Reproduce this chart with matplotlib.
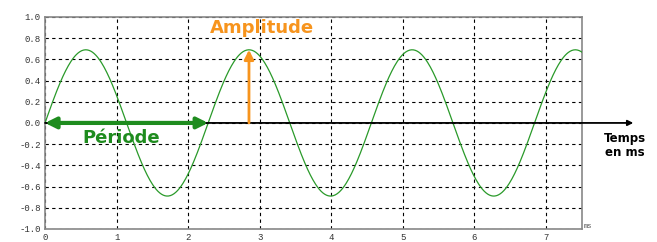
import numpy as np
import matplotlib.pyplot as plt

# values
amplitude = 0.69          # peak value
period = 2.28             # ms
t_max = 7.5               # ms, end of the x axis
x_ticks = [0, 1, 2, 3, 4, 5, 6, 7]
y_ticks = [-1.0, -0.8, -0.6, -0.4, -0.2, 0.0, 0.2, 0.4, 0.6, 0.8, 1.0]

green = '#1e8c1e'
orange = '#f7941d'

t = np.linspace(0, t_max, 600)
signal = amplitude * np.sin(2 * np.pi * t / period)

fig = plt.figure(figsize=(6.57, 2.42), dpi=100)
ax = fig.add_axes([0.0685, 0.054, 0.817, 0.876])

ax.plot(t, signal, color='#2a9a2a', lw=0.9, zorder=3)

ax.set_xlim(0, t_max)
ax.set_ylim(-1.0, 1.0)
ax.set_xticks(x_ticks)
ax.set_yticks(y_ticks)
ax.set_xticklabels([str(v) for v in x_ticks])
ax.set_yticklabels([f'{v:.1f}' for v in y_ticks])
ax.tick_params(length=0, labelsize=6.5, pad=3, colors='#333333')
for lab in ax.get_xticklabels() + ax.get_yticklabels():
    lab.set_family('Liberation Mono')
ax.grid(True, color='black', linestyle=(0, (3, 3)), lw=0.8)
for s in ax.spines.values():
    s.set_color('#888888')
    s.set_linewidth(1.2)

# unit at the bottom right corner
ax.text(1.003, -0.005, 'ms', transform=ax.transAxes, fontsize=5,
        family='Liberation Mono', color='#555555', va='bottom', ha='left')

# time axis arrow
ax.annotate('', xy=(8.22, 0), xytext=(0, 0), annotation_clip=False,
            arrowprops=dict(arrowstyle='-|>', color='black', lw=1.3,
                            mutation_scale=8, shrinkA=0, shrinkB=0), zorder=4)
ax.text(8.1, -0.21, 'Temps\nen ms', fontsize=8.5, fontweight='bold',
        ha='center', va='center', linespacing=1.1, clip_on=False)

# period double arrow
ax.annotate('', xy=(period, 0), xytext=(0, 0),
            arrowprops=dict(arrowstyle='<|-|>', color=green, lw=3,
                            mutation_scale=16, shrinkA=0, shrinkB=0), zorder=5)
ax.text(1.07, -0.14, 'Période', color=green, fontsize=13, fontweight='bold',
        ha='center', va='center', zorder=6)

# amplitude arrow
ax.annotate('', xy=(period * 1.25, amplitude), xytext=(period * 1.25, 0),
            arrowprops=dict(arrowstyle='-|>', color=orange, lw=2,
                            mutation_scale=14, shrinkA=0, shrinkB=0), zorder=5)
ax.text(3.03, 0.9, 'Amplitude', color=orange, fontsize=13, fontweight='bold',
        ha='center', va='center', zorder=6)

fig.savefig('out.png', dpi=100)
